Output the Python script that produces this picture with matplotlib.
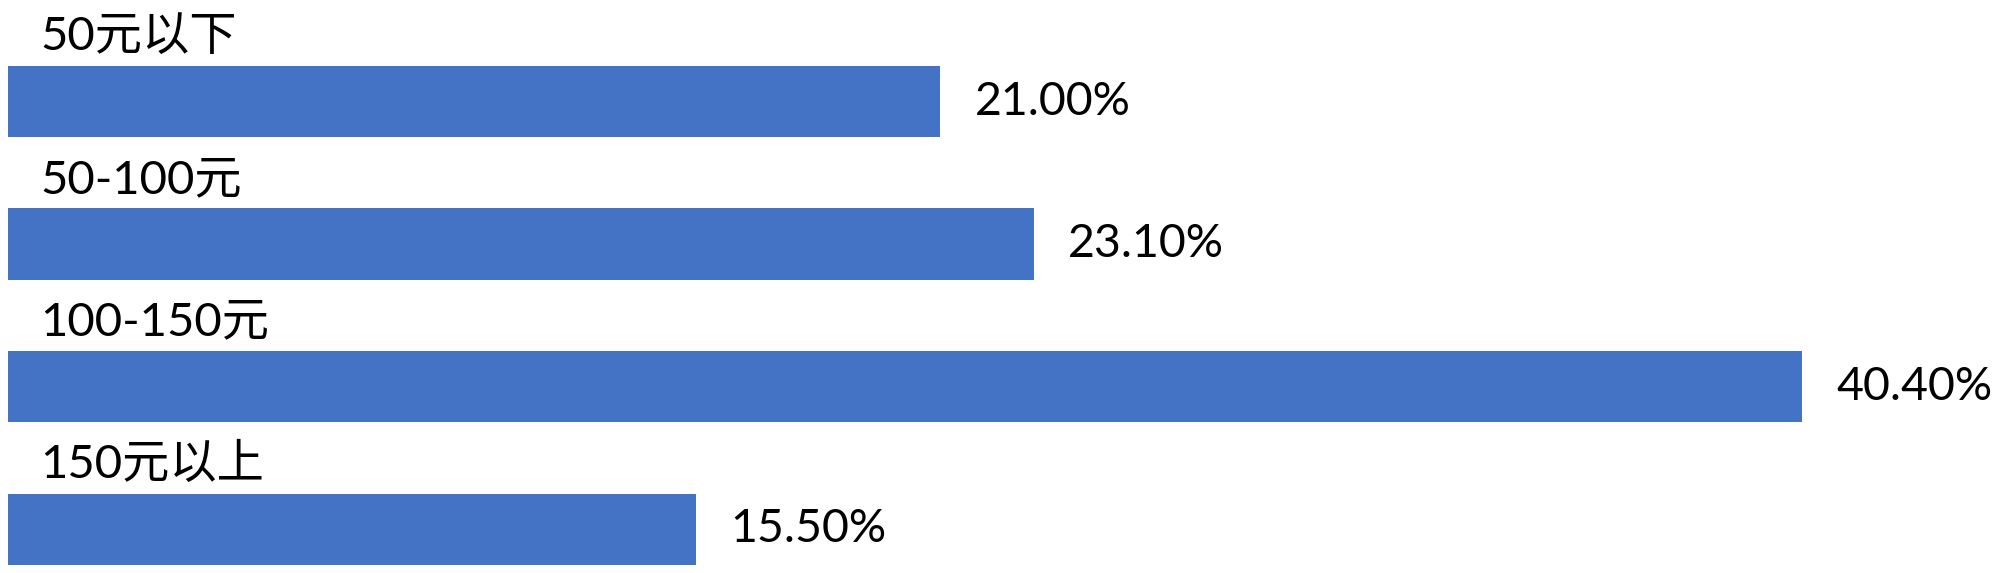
import numpy as np
import matplotlib
matplotlib.use("Agg")
import matplotlib.pyplot as plt

plt.rcParams['font.family'] = ['Lato', 'Noto Sans CJK SC', 'DejaVu Sans']

categories = ["50元以下", "50-100元", "100-150元", "150元以上"]
values = [21.00, 23.10, 40.40, 15.50]
labels = ["21.00%", "23.10%", "40.40%", "15.50%"]

bar_color = "#4472C4"


def main():
    fig = plt.figure(figsize=(20, 5.73), dpi=100)
    # axes starts at the bars' left edge (about 8 px in)
    ax = fig.add_axes([8 / 2000, 0, 1 - 8 / 2000, 1])

    ypos = np.arange(len(categories))
    ax.barh(ypos, values, height=0.5, color=bar_color)

    ax.set_xlim(0, (2000 - 8) / 44.4)
    ax.set_ylim(3.306, -0.712)

    for y, cat, v, lab in zip(ypos, categories, values, labels):
        ax.text(0.72, y - 0.36, cat, fontsize=34, va="baseline", ha="left")
        ax.text(v + 0.77, y, lab, fontsize=33.5, va="center", ha="left")

    ax.axis("off")
    fig.savefig("out.png", dpi=100)


if __name__ == "__main__":
    main()
